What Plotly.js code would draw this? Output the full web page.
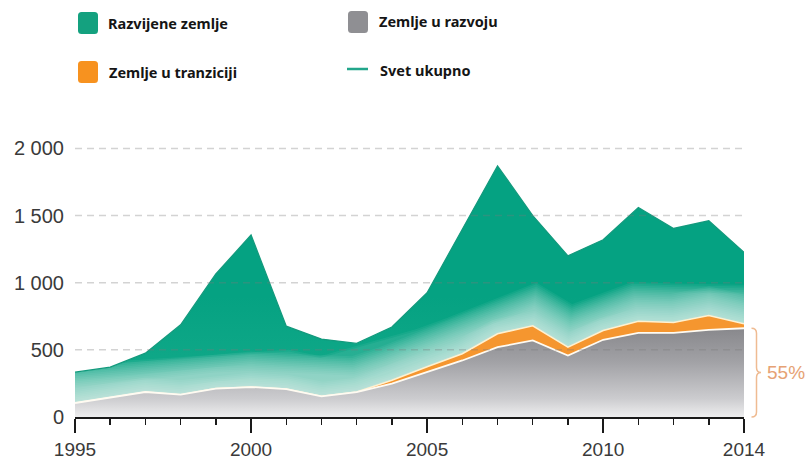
<!DOCTYPE html>
<html>
<head>
<meta charset="utf-8">
<script src="https://cdn.plot.ly/plotly-3.0.1.min.js"></script>
<style>
html,body{margin:0;padding:0;background:#ffffff;}
#chart{width:807px;height:461px;}
</style>
</head>
<body>
<div id="chart"></div>
<script>
// ---- data ----
const years = [1995,1996,1997,1998,1999,2000,2001,2002,2003,2004,2005,2006,2007,2008,2009,2010,2011,2012,2013,2014];
const developed  = [230,227,289,520,854,1132,468,426,362,397,550,929,1250,821,680,676,847,700,705,532];
const transition = [0,0,0,0,0,0,0,0,0,25,38,50,100,109,62,69,86,77,107,33];
const developing = [104,144,186,166,211,223,208,154,186,248,337,421,520,570,458,575,627,627,649,661];
const yTickVals = [0,500,1000,1500,2000];
const yTickText = ['0','500','1 000','1 500','2 000'];
const xTickVals = [1995,2000,2005,2010,2014];
const xTickText = ['1995','2000','2005','2010','2014'];
const seriesNames = ['Razvijene zemlje','Zemlje u tranziciji','Zemlje u razvoju','Svet ukupno'];
const shareLabel = '55%';

// ---- stacking ----
const greyTop = developing.slice();
const orangeTop = developing.map((v,i)=>v+transition[i]);
const total = orangeTop.map((v,i)=>v+developed[i]);

// ---- geometry helpers (plot area in pixels) ----
const W = 807, H = 461;
const M = {l:75, r:63, t:135, b:44};
const PW = W - M.l - M.r, PH = H - M.t - M.b;
const yMax = 2100;
const fx = px => (px - M.l) / PW;
const fy = py => (H - M.b - py) / PH;

const traces = [];
// green (developed) area: drawn to zero, lower part covered by the other layers
traces.push({
  x: years, y: total, type:'scatter', mode:'none', name: seriesNames[0],
  fill:'tozeroy',
  fillgradient:{type:'vertical', start:0, stop:900,
    colorscale:[[0,'rgb(50,176,146)'],[0.4,'rgb(16,168,136)'],[1,'rgb(5,162,130)']]},
  showlegend:false, hoverinfo:'skip'
});
// soft light glow just above the lower boundary of the green area (smooth fade)
for (let w = 78; w >= 4; w -= 3.5) {
  traces.push({
    x: years, y: orangeTop, type:'scatter', mode:'lines',
    line:{color:'rgba(255,255,255,0.055)', width:w, shape:'linear'},
    showlegend:false, hoverinfo:'skip'
  });
}
// orange (transition)
traces.push({
  x: years, y: orangeTop, type:'scatter', mode:'lines', name: seriesNames[1],
  fill:'tozeroy', fillcolor:'#f5962f',
  line:{color:'#fff1d0', width:1.6},
  showlegend:false, hoverinfo:'skip'
});
// grey (developing)
traces.push({
  x: years, y: greyTop, type:'scatter', mode:'lines', name: seriesNames[2],
  fill:'tozeroy',
  fillgradient:{type:'vertical', start:0, stop:680,
    colorscale:[[0,'rgb(238,238,239)'],[0.2,'rgb(204,204,207)'],[0.6,'rgb(162,162,166)'],[1,'rgb(134,134,138)']]},
  line:{color:'#fffbf2', width:1.8},
  showlegend:false, hoverinfo:'skip'
});
// world total line
traces.push({
  x: years, y: total, type:'scatter', mode:'lines', name: seriesNames[3],
  line:{color:'#139a7d', width:1.3},
  showlegend:false, hoverinfo:'skip'
});

// ---- shapes ----
const shapes = [];
yTickVals.filter(v=>v>0).forEach(v=>{
  shapes.push({type:'line', xref:'paper', yref:'y', x0:0, x1:1, y0:v, y1:v,
    line:{color:'rgba(120,120,120,0.33)', width:1.5, dash:'7px,5px'}, layer:'above'});
});
function roundRect(x0,y0,x1,y1,r){
  const X0=fx(x0), X1=fx(x1), T=fy(y0), B=fy(y1), rx=r/PW, ry=r/PH;
  return `M${X0+rx},${T} L${X1-rx},${T} Q${X1},${T} ${X1},${T-ry} L${X1},${B+ry} Q${X1},${B} ${X1-rx},${B} L${X0+rx},${B} Q${X0},${B} ${X0},${B+ry} L${X0},${T-ry} Q${X0},${T} ${X0+rx},${T} Z`;
}
const legendItems = [
  {name:seriesNames[0], kind:'box', color:'#14a17f', sx:78, sy:12, tx:106, ty:23},
  {name:seriesNames[2], kind:'box', color:'#8f8f93', sx:348, sy:11, tx:377, ty:21},
  {name:seriesNames[1], kind:'box', color:'#f7921f', sx:78, sy:61, tx:107, ty:72},
  {name:seriesNames[3], kind:'line', color:'#22a68b', sx:347, sy:69, tx:378, ty:70}
];
const annotations = [];
legendItems.forEach(it=>{
  if(it.kind==='box'){
    shapes.push({type:'path', xref:'paper', yref:'paper', path:roundRect(it.sx,it.sy,it.sx+20,it.sy+22,3.5),
      fillcolor:it.color, line:{width:0}, layer:'above'});
  } else {
    shapes.push({type:'line', xref:'paper', yref:'paper', x0:fx(it.sx), x1:fx(it.sx+21), y0:fy(it.sy), y1:fy(it.sy),
      line:{color:it.color, width:2.5}, layer:'above'});
  }
  annotations.push({xref:'paper', yref:'paper', x:fx(it.tx), y:fy(it.ty), xanchor:'left', yanchor:'middle',
    text:'<b>'+it.name+'</b>', showarrow:false,
    font:{family:'Noto Sans, Open Sans, sans-serif', size:14.5, color:'#151515'}});
});
// bracket showing share of developing countries in 2014
const lastG = greyTop[greyTop.length-1];
const bTop = lastG / yMax, bMid = bTop/2, bDy = 5/PH;
const xV = fx(756.5), xH = fx(751.5), xT = fx(761);
shapes.push({type:'path', xref:'paper', yref:'paper',
  path:`M${xH},${bTop} Q${xV},${bTop} ${xV},${bTop-bDy} L${xV},${bMid+bDy} Q${xV},${bMid} ${xT},${bMid} Q${xV},${bMid} ${xV},${bMid-bDy} L${xV},${bDy} Q${xV},0 ${xH},0`,
  line:{color:'#efbb92', width:1.5}, layer:'above'});
annotations.push({xref:'paper', yref:'paper', x:fx(765), y:bMid, xanchor:'left', yanchor:'middle',
  text:shareLabel, showarrow:false, font:{family:'Liberation Sans, Arial, sans-serif', size:19, color:'#e6a274'}});

const layout = {
  width:W, height:H,
  margin:M,
  paper_bgcolor:'#ffffff', plot_bgcolor:'#ffffff',
  showlegend:false,
  xaxis:{
    range:[1995,2014], tickmode:'array', tickvals:xTickVals, ticktext:xTickText,
    ticks:'outside', ticklen:14, tickwidth:1.5, tickcolor:'#1a1a1a',
    minor:{tickmode:'linear', tick0:1995, dtick:1, ticks:'outside', ticklen:6, tickwidth:1.5, tickcolor:'#1a1a1a', showgrid:false},
    showline:true, linecolor:'#1a1a1a', linewidth:1.8, showgrid:false, zeroline:false,
    layer:'above traces', ticklabelstandoff:0,
    tickfont:{family:'Liberation Sans, Arial, sans-serif', size:19, color:'#3a3a3a'}
  },
  yaxis:{
    range:[0,yMax], tickmode:'array', tickvals:yTickVals, ticktext:yTickText,
    ticks:'', showline:false, showgrid:false, zeroline:false, ticklabelstandoff:10,
    tickfont:{family:'Liberation Sans, Arial, sans-serif', size:20, color:'#3a3a3a'}
  },
  shapes:shapes,
  annotations:annotations
};

Plotly.newPlot('chart', traces, layout, {staticPlot:true, displayModeBar:false});
</script>
</body>
</html>
